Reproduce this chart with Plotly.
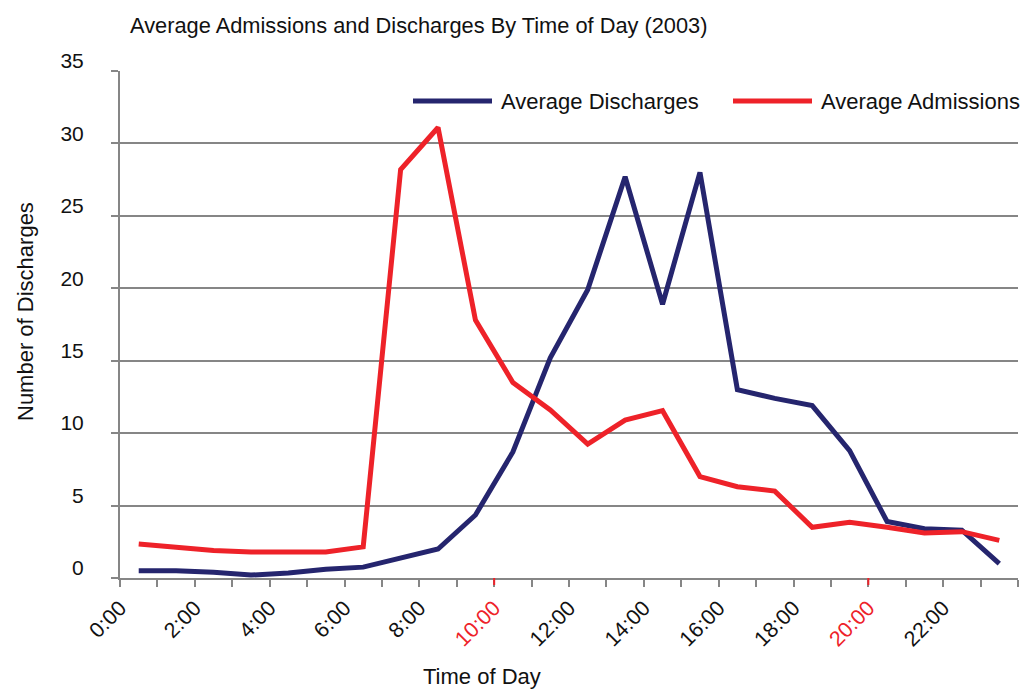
import plotly.graph_objects as go

# hour of day each average belongs to (value is plotted in the middle of the hour)
hours = [0, 1, 2, 3, 4, 5, 6, 7, 8, 9, 10, 11, 12, 13, 14, 15, 16, 17, 18, 19, 20, 21, 22, 23]
discharges = [0.5, 0.5, 0.4, 0.2, 0.35, 0.6, 0.75, 1.4, 2.0, 4.35, 8.7, 15.2,
              19.9, 27.7, 18.9, 28.0, 13.0, 12.4, 11.9, 8.8, 3.9, 3.4, 3.3, 1.0]
admissions = [2.35, 2.1, 1.9, 1.8, 1.8, 1.8, 2.15, 28.2, 31.1, 17.8, 13.5, 11.6,
              9.25, 10.9, 11.55, 7.0, 6.3, 6.0, 3.5, 3.85, 3.5, 3.1, 3.2, 2.6]
series_names = ["Average Discharges", "Average Admissions"]
tick_hours = [0, 2, 4, 6, 8, 10, 12, 14, 16, 18, 20, 22]
tick_labels = ["0:00", "2:00", "4:00", "6:00", "8:00", "10:00", "12:00",
               "14:00", "16:00", "18:00", "20:00", "22:00"]
red_hours = [10, 20]

FONT = "Liberation Sans, Arial, sans-serif"
BLUE = "#25256e"
RED = "#ee2229"
GRID = "#868686"
INK = "#111111"

W, H = 1024, 691
L, R, T, B = 120, 6, 71, 113
pw, ph = W - L - R, H - T - B


def px_x(p):
    return (p - L) / pw


def px_y(p):
    return (H - B - p) / ph


x_mid = [h + 0.5 for h in hours]

fig = go.Figure()
fig.add_trace(go.Scatter(x=x_mid, y=discharges, mode="lines", name=series_names[0],
                         line=dict(color=BLUE, width=5)))
fig.add_trace(go.Scatter(x=x_mid, y=admissions, mode="lines", name=series_names[1],
                         line=dict(color=RED, width=5)))

# tick marks every hour, labels every two hours
tickvals = list(range(0, 25))
ticktext = []
for t in tickvals:
    if t in tick_hours:
        lab = tick_labels[tick_hours.index(t)]
        if t in red_hours:
            lab = "<span style='color:%s'>%s</span>" % (RED, lab)
        ticktext.append(lab)
    else:
        ticktext.append("")

shapes = []
for h in red_hours:
    shapes.append(dict(type="line", xref="x", yref="paper", x0=h, x1=h, y0=0, y1=-7 / ph,
                       line=dict(color=RED, width=2)))

# legend drawn by hand so the line samples are long like the original
legend_items = [(series_names[0], BLUE, 413), (series_names[1], RED, 733)]
annotations = []
for name, col, x0 in legend_items:
    shapes.append(dict(type="line", xref="paper", yref="paper", x0=px_x(x0), x1=px_x(x0 + 79),
                       y0=px_y(101), y1=px_y(101), line=dict(color=col, width=5)))
    annotations.append(dict(text=name, xref="paper", yref="paper", x=px_x(x0 + 86), y=px_y(102),
                            xanchor="left", yanchor="middle", showarrow=False,
                            font=dict(family=FONT, size=22, color=INK)))

# axis titles
annotations.append(dict(text="Time of Day", xref="paper", yref="paper", x=px_x(482), y=px_y(677),
                        xanchor="center", yanchor="middle", showarrow=False,
                        font=dict(family=FONT, size=22, color=INK)))
annotations.append(dict(text="Number of Discharges", xref="paper", yref="paper", x=px_x(25),
                        y=px_y(312), xanchor="center", yanchor="middle", showarrow=False,
                        textangle=-90, font=dict(family=FONT, size=22, color=INK)))

fig.update_layout(
    width=W, height=H,
    paper_bgcolor="white", plot_bgcolor="white",
    margin=dict(l=L, r=R, t=T, b=B),
    showlegend=False,
    font=dict(family=FONT, size=21, color=INK),
    title=dict(text="Average Admissions and Discharges By Time of Day (2003)",
               x=130 / W, xanchor="left", y=1 - 25 / H, yanchor="middle",
               font=dict(family=FONT, size=21.8, color=INK)),
    shapes=shapes,
    annotations=annotations,
    xaxis=dict(range=[0, 24], tickvals=tickvals, ticktext=ticktext, tickangle=-45,
               showgrid=False, zeroline=False, showline=True, linecolor=GRID, linewidth=2,
               ticks="outside", ticklen=7, tickcolor=GRID, tickwidth=2,
               tickfont=dict(size=21.5), automargin=False),
    yaxis=dict(range=[0, 35], dtick=5, showgrid=True, gridcolor=GRID, gridwidth=2,
               zeroline=False, showline=True, linecolor=GRID, linewidth=2,
               ticks="outside", ticklen=7, tickcolor=GRID, tickwidth=2,
               tickfont=dict(size=21), ticklabelstandoff=23, ticklabelshift=-10,
               automargin=False),
)

# page has a default 8px body margin; drop it so the figure fills the window
fig.write_html("out.html", config={"displayModeBar": False},
               post_script="document.body.style.margin='0';")
